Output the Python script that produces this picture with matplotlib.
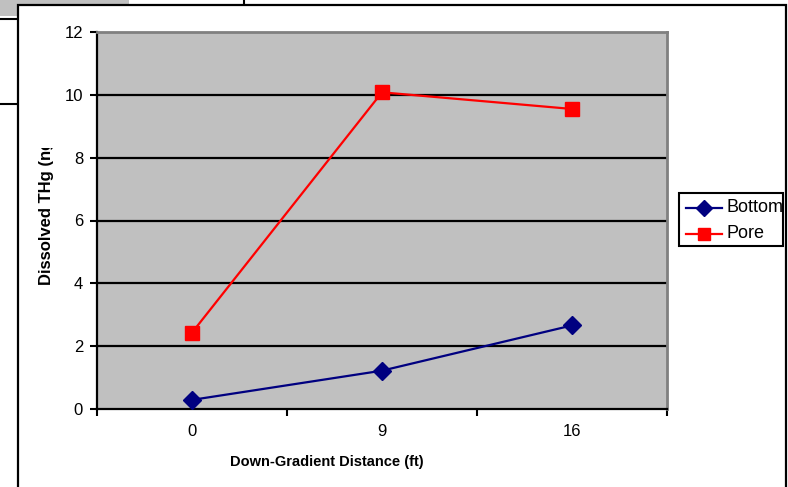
import matplotlib.pyplot as plt
import numpy as np
from matplotlib.lines import Line2D
from matplotlib.patches import Rectangle
from matplotlib.transforms import Bbox, TransformedBbox

plt.rcParams['font.family'] = ['Liberation Sans', 'DejaVu Sans']

distance_labels = ["0", "9", "16"]
bottom_thg = [0.29, 1.22, 2.66]
pore_thg = [2.43, 10.08, 9.55]

W, H = 788, 487
fig = plt.figure(figsize=(W / 100, H / 100), dpi=100)


def px(x, y):
    # pixel position (from top-left) to figure fraction
    return x / W, 1 - y / H


# stray bits of the sheet around the chart object
fig.add_artist(Rectangle(px(0, 16), 129 / W, 16 / H, transform=fig.transFigure,
                         facecolor="#c0c0c0", edgecolor="none", zorder=0))
for (x0, y0), (x1, y1) in [((0, 18.5), (18, 18.5)), ((0, 104.5), (18, 104.5)),
                           ((244, 0), (244, 5))]:
    a, b = px(x0, y0), px(x1, y1)
    fig.add_artist(Line2D([a[0], b[0]], [a[1], b[1]], transform=fig.transFigure,
                          color="black", lw=1.5, zorder=1))

# chart border
fig.add_artist(Rectangle(px(18, 500), (786 - 18) / W, (500 - 5) / H,
                         transform=fig.transFigure, facecolor="white",
                         edgecolor="black", lw=1.6, zorder=1))

l, t = px(97, 32)
r, b = px(667, 409)
ax = fig.add_axes([l, b, r - l, t - b], zorder=2)
ax.set_facecolor("#c0c0c0")

x = np.arange(len(distance_labels))
ax.plot(x, bottom_thg, color="#000080", lw=1.6, marker="D", ms=9,
        label="Bottom", zorder=4)
ax.plot(x, pore_thg, color="#ff0000", lw=1.6, marker="s", ms=9.5,
        label="Pore", zorder=4)

ax.set_xlim(-0.5, len(x) - 0.5)
ax.set_ylim(0, 12)
ax.set_yticks(np.arange(0, 13, 2))
ax.set_xticks(np.arange(-0.5, len(x), 1.0))
ax.set_xticklabels([])
ax.set_xticks(x, minor=True)
ax.set_xticklabels(distance_labels, minor=True)
ax.tick_params(axis="x", which="minor", length=0, pad=11, labelsize=12)
ax.tick_params(axis="x", which="major", length=5, width=1.5, direction="out")
ax.tick_params(axis="y", length=5, width=1.5, direction="out", pad=5, labelsize=12)

for yv in range(2, 12, 2):
    ax.axhline(yv, color="black", lw=1.6, zorder=1)

ax.spines["left"].set_linewidth(1.6)
ax.spines["bottom"].set_linewidth(1.6)
ax.spines["top"].set_color("#808080")
ax.spines["right"].set_color("#808080")
ax.spines["top"].set_linewidth(2)
ax.spines["right"].set_linewidth(2)

# axis titles
fig.text(*px(327, 462), "Down-Gradient Distance (ft)", ha="center", va="center",
         fontsize=10.5, fontweight="bold")
ylab = fig.text(*px(47, 285), "Dissolved THg (ng/L)", rotation=90,
                rotation_mode="anchor", ha="left", va="center",
                fontsize=12, fontweight="bold")
ylab.set_clip_box(TransformedBbox(Bbox([[0, 0], [1, 1 - 148 / H]]), fig.transFigure))
ylab.set_clip_on(True)

# legend box
lx0, ly0 = px(679, 246)
lx1, ly1 = px(783, 193)
fig.add_artist(Rectangle((lx0, ly0), lx1 - lx0, ly1 - ly0, transform=fig.transFigure,
                         facecolor="white", edgecolor="black", lw=1.5, zorder=3))
clip = TransformedBbox(Bbox([[lx0, ly0], [lx1, ly1]]), fig.transFigure)
for line, yy in zip(ax.get_lines(), [208, 234]):
    a = px(686, yy)
    c = px(722, yy)
    m = px(704, yy)
    fig.add_artist(Line2D([a[0], c[0]], [a[1], c[1]], transform=fig.transFigure,
                          color=line.get_color(), lw=line.get_linewidth(), zorder=4))
    fig.add_artist(Line2D([m[0]], [m[1]], transform=fig.transFigure,
                          color=line.get_color(), marker=line.get_marker(),
                          ms=line.get_markersize() * 0.9, lw=0, zorder=4))
    txt = fig.text(*px(727, yy), line.get_label(), ha="left", va="center",
                   fontsize=13, zorder=4)
    txt.set_clip_box(clip)
    txt.set_clip_on(True)

fig.savefig("out.png", dpi=100)
